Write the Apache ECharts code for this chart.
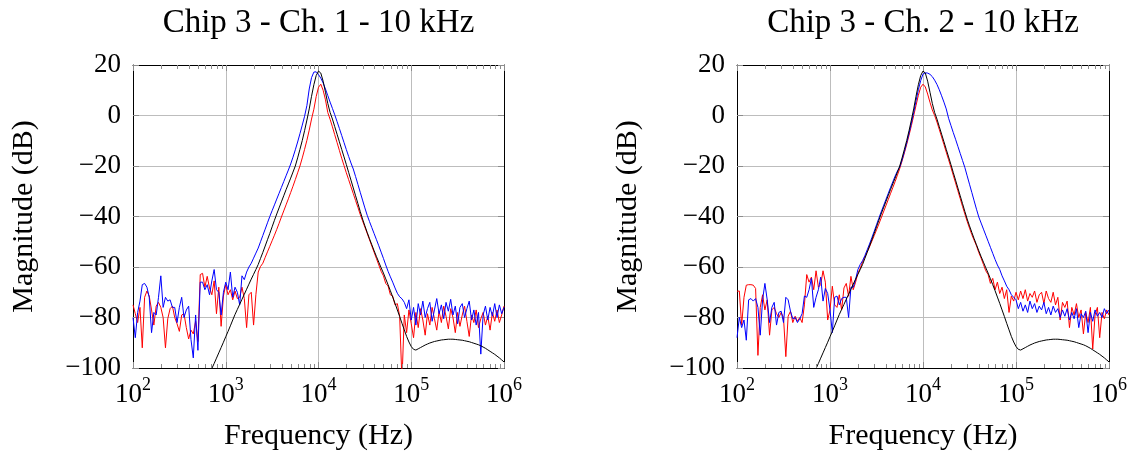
<!DOCTYPE html>
<html>
<head>
<meta charset="utf-8">
<script src="https://cdn.jsdelivr.net/npm/echarts@6/dist/echarts.min.js"></script>
<style>
  html, body { margin: 0; padding: 0; background: #ffffff; }
  #chart { width: 1134px; height: 457px; }
</style>
</head>
<body>
<div id="chart"></div>
<script>
// Sweep grid: 40 log-spaced points per decade, 100 Hz .. 1 MHz
const sweepMantissa = [1.000, 1.059, 1.122, 1.189, 1.259, 1.334, 1.413, 1.496, 1.585, 1.679,
                       1.778, 1.884, 1.995, 2.113, 2.239, 2.371, 2.512, 2.661, 2.818, 2.985,
                       3.162, 3.350, 3.548, 3.758, 3.981, 4.217, 4.467, 4.732, 5.012, 5.309,
                       5.623, 5.957, 6.310, 6.683, 7.079, 7.499, 7.943, 8.414, 8.913, 9.441];
const sweepDecadesHz = [100, 1000, 10000, 100000];
const sweepEndHz = 1000000;

const panelTitles = ['Chip 3 - Ch. 1 - 10 kHz', 'Chip 3 - Ch. 2 - 10 kHz'];
const xAxisTitle = 'Frequency (Hz)';
const yAxisTitle = 'Magnitude (dB)';
const freqRangeHz = [100, 1000000];
const magRangeDb = [-100, 20];
const magStepDb = 20;
const minorMultipliers = [2, 3, 4, 5, 6, 7, 8, 9];

// Simulated filter response (same model in both panels), dB
const modelDb = [
  null, null, null, null, null, null, null, null, null, null,
  null, null, null, null, null, null, null, null, null, null,
  null, null, null, null, null, null, null, null, null, null,
  null, null, -104.4, -102.3, -100.2, -98.2, -96.1, -94.0, -91.9, -89.8,
  -87.6, -85.5, -83.3, -81.0, -78.8, -76.8, -74.8, -72.8, -70.8, -68.8,
  -66.8, -64.8, -62.9, -61.0, -59.0, -56.6, -54.2, -51.7, -49.2, -46.7,
  -44.1, -41.5, -39.0, -36.6, -34.2, -31.8, -29.4, -27.1, -24.8, -22.4,
  -20.0, -16.8, -13.4, -9.9, -6.0, -1.8, 2.6, 7.6, 12.2, 15.8,
  17.6, 16.8, 13.6, 9.2, 4.8, 1.2, -1.4, -4.4, -7.4, -10.4,
  -13.4, -16.4, -19.4, -22.5, -25.6, -28.7, -31.8, -34.9, -38.0, -41.0,
  -43.7, -46.3, -48.8, -51.2, -53.6, -55.9, -58.1, -60.3, -62.4, -64.7,
  -67.0, -69.4, -71.9, -74.4, -77.0, -79.6, -82.3, -84.9, -87.5, -89.7,
  -91.5, -92.6, -92.9, -92.4, -91.9, -91.4, -90.9, -90.5, -90.1, -89.8,
  -89.5, -89.3, -89.1, -88.9, -88.8, -88.7, -88.6, -88.6, -88.6, -88.7,
  -88.8, -88.9, -89.0, -89.2, -89.4, -89.6, -89.9, -90.2, -90.5, -90.8,
  -91.2, -91.7, -92.2, -92.8, -93.4, -94.0, -94.6, -95.3, -96.0, -96.8,
  -97.6
];

// Channel 1 measurements, dB
const ch1RedDb = [
  -75.0, -78.5, -82.0, -76.0, -92.0, -72.0, -69.5, -71.5, -77.0, -83.0,
  -75.5, -74.0, -76.0, -80.0, -92.0, -80.5, -76.5, -75.5, -80.0, -82.5,
  -85.5, -79.0, -78.5, -84.0, -88.5, -85.0, -86.5, -81.5, -89.5, -63.0,
  -62.5, -68.0, -63.7, -68.3, -71.0, -65.5, -78.5, -68.0, -83.5, -71.5,
  -67.0, -71.0, -69.0, -73.0, -69.5, -72.5, -72.0, -68.0, -72.5, -84.0,
  -71.0, -70.0, -83.0, -71.0, -62.0, -59.8, -58.5, -56.2, -54.0, -51.8,
  -49.6, -47.4, -45.1, -42.7, -40.2, -37.8, -35.4, -33.0, -30.5, -28.0,
  -25.4, -22.7, -20.0, -16.8, -13.4, -9.8, -5.8, -1.4, 2.5, 7.5,
  11.2, 12.4, 10.0, 6.2, 1.2, -1.5, -4.5, -7.6, -10.7, -13.8,
  -16.9, -19.8, -22.7, -25.4, -28.2, -30.9, -33.7, -36.4, -39.2, -41.7,
  -44.2, -46.7, -49.2, -51.7, -54.2, -56.7, -59.2, -61.7, -63.5, -66.5,
  -67.5, -71.0, -71.5, -75.0, -74.5, -79.5, -105.0, -79.0, -86.0, -77.0,
  -82.5, -88.0, -78.0, -84.0, -76.5, -81.0, -87.0, -78.5, -83.0, -76.0,
  -80.5, -85.0, -77.5, -82.0, -75.5, -79.5, -84.5, -76.5, -80.0, -86.0,
  -78.0, -83.5, -79.0, -75.5, -81.5, -87.5, -79.0, -82.0, -77.0, -84.0,
  -80.5, -78.0, -83.0, -79.5, -85.0, -78.0, -81.5, -77.0, -82.0, -79.0,
  -75.5
];
const ch1BlueDb = [
  -80.0, -88.0, -78.0, -73.5, -67.0, -66.5, -68.0, -72.0, -86.0, -78.0,
  -79.0, -72.0, -63.5, -76.0, -72.0, -73.5, -73.0, -76.0, -76.0, -82.0,
  -76.0, -72.0, -80.0, -77.0, -75.5, -88.7, -96.0, -79.0, -93.0, -66.0,
  -66.0, -69.0, -67.0, -71.0, -65.5, -61.0, -69.0, -70.0, -79.0, -70.0,
  -66.0, -69.0, -62.0, -72.0, -68.0, -70.0, -75.0, -63.5, -65.0, -62.0,
  -60.0, -58.5, -56.5, -54.5, -52.5, -50.0, -47.5, -45.0, -42.5, -40.0,
  -37.7, -35.4, -33.1, -30.8, -28.5, -26.2, -23.9, -21.6, -19.2, -16.5,
  -13.6, -10.5, -7.2, -3.8, -0.3, 4.0, 10.5, 15.0, 17.2, 17.3,
  16.2, 14.8, 12.9, 10.5, 7.9, 5.3, 2.8, 0.3, -2.4, -5.1,
  -7.9, -10.7, -13.5, -16.2, -18.8, -21.2, -24.2, -27.3, -30.4, -33.5,
  -36.6, -39.5, -42.0, -44.4, -46.8, -49.2, -51.6, -54.1, -56.6, -59.2,
  -61.7, -63.9, -66.0, -68.3, -70.4, -71.8, -72.6, -74.0, -76.5, -73.0,
  -81.0, -76.0, -83.0, -74.5, -79.0, -73.5, -80.0, -76.5, -74.0, -81.5,
  -77.0, -72.5, -78.5, -75.0, -80.5, -74.0, -77.5, -72.8, -79.0, -75.5,
  -82.5, -76.0, -74.5, -80.0, -76.5, -73.5, -81.0, -77.0, -83.0, -78.0,
  -94.5, -79.0, -75.5, -81.0, -76.0, -79.5, -74.5, -80.0, -75.0, -78.5,
  -76.0
];

// Channel 2 measurements, dB
const ch2RedDb = [
  -69.6, -69.5, -83.0, -72.0, -67.2, -67.0, -67.0, -67.2, -68.5, -95.0,
  -76.0, -71.0, -77.0, -73.0, -87.0, -77.0, -76.0, -78.5, -80.0, -78.0,
  -80.0, -95.5, -79.5, -77.5, -82.0, -79.5, -81.5, -80.0, -82.0, -75.0,
  -63.0, -66.0, -64.0, -69.0, -61.5, -68.0, -67.0, -61.5, -66.0, -81.0,
  -77.0, -67.6, -75.0, -76.0, -71.0, -77.0, -68.3, -66.5, -71.6, -63.7,
  -69.0, -66.0, -62.5, -60.5, -58.0, -56.0, -54.0, -52.0, -49.8, -47.6,
  -45.3, -43.0, -40.6, -38.2, -35.8, -33.4, -31.0, -28.6, -26.2, -23.6,
  -21.0, -18.0, -14.8, -11.4, -7.8, -4.0, 0.0, 4.0, 8.0, 11.2,
  12.4, 11.3, 8.5, 5.2, 2.2, 0.0, -2.6, -5.5, -8.5, -11.5,
  -14.5, -17.5, -20.5, -23.6, -26.7, -29.8, -32.9, -36.0, -39.0, -41.9,
  -44.6, -47.2, -49.4, -51.6, -54.3, -56.5, -59.0, -61.5, -63.0, -66.5,
  -64.5, -69.0, -66.0, -70.5, -68.0, -72.5, -69.0, -78.0, -71.5, -73.5,
  -70.0, -73.0, -69.5, -72.5, -69.0, -73.5, -70.5, -72.0, -69.5, -74.0,
  -71.0, -70.0, -74.5, -69.5, -72.5, -74.0, -70.0, -75.0, -72.0, -81.0,
  -74.0, -76.0, -73.5, -84.0, -76.0, -79.0, -74.5, -80.0, -77.0, -86.5,
  -78.0, -82.0, -76.0, -92.5, -79.0, -76.0, -88.0, -78.0, -80.5, -77.0,
  -79.0
];
const ch2BlueDb = [
  -88.0, -80.0, -84.0, -81.0, -89.0, -73.0, -72.5, -73.5, -72.5, -76.0,
  -87.0, -73.0, -66.5, -73.0, -82.0, -76.0, -74.0, -83.0, -78.0, -77.5,
  -82.0, -72.0, -73.0, -77.5, -80.5, -80.0, -82.0, -80.5, -78.5, -71.5,
  -72.0, -69.0, -64.5, -76.0, -72.0, -69.0, -64.0, -73.5, -68.5, -70.5,
  -77.0, -86.0, -72.0, -71.5, -75.0, -72.5, -72.0, -72.0, -80.0, -68.0,
  -68.0, -65.0, -61.0, -59.0, -57.5, -55.5, -53.2, -50.9, -48.4, -45.9,
  -43.3, -40.7, -38.2, -35.8, -33.4, -31.0, -28.6, -26.3, -24.0, -22.0,
  -20.4, -17.6, -14.3, -10.8, -7.0, -3.0, 1.2, 5.8, 10.2, 13.8,
  16.4, 16.9, 16.8, 16.3, 15.4, 14.0, 12.3, 10.2, 7.8, 5.3,
  2.6, -1.1, -3.9, -6.7, -9.4, -12.2, -15.0, -17.8, -20.6, -23.9,
  -27.2, -30.5, -33.8, -37.1, -40.2, -42.6, -45.0, -47.4, -49.8, -52.2,
  -54.6, -57.0, -59.2, -61.0, -63.5, -65.5, -67.6, -69.0, -71.0, -72.0,
  -73.0, -76.5, -74.0, -77.5, -75.0, -78.0, -73.5, -76.5, -74.5, -78.0,
  -75.5, -77.0, -74.0, -78.5, -76.0, -79.0, -75.5, -78.0, -76.5, -80.0,
  -77.0, -79.5, -76.5, -81.0, -78.0, -80.5, -76.5, -84.0, -78.5, -80.0,
  -77.5, -86.0, -78.0, -81.5, -77.0, -79.5, -78.0, -80.0, -76.5, -78.5,
  -77.0
];

// ---- build the chart ----
const freqHz = sweepDecadesHz
  .flatMap(d => sweepMantissa.map(m => Math.round(d * m * 1000) / 1000))
  .concat([sweepEndHz]);
const minorTickHz = sweepDecadesHz.flatMap(d => minorMultipliers.map(m => d * m));
const pairs = vals => freqHz.map((f, i) => [f, vals[i]]);

const FONT = 'Liberation Serif';
const GRID_COLOR = '#bdbdbd';
const TICK_COLOR = '#8c8c8c';
const AXIS_COLOR = '#000000';

const panels = [
  { left: 133, width: 371, red: ch1RedDb, blue: ch1BlueDb },
  { left: 737, width: 372, red: ch2RedDb, blue: ch2BlueDb }
];
const plotTop = 65, plotHeight = 303;

const grid = [], xAxis = [], yAxis = [], series = [], graphic = [];

panels.forEach((p, i) => {
  grid.push({ left: p.left, top: plotTop, width: p.width, height: plotHeight,
              containLabel: false, outerBoundsMode: 'none' });

  const xBase = {
    type: 'log', logBase: 10, gridIndex: i,
    min: freqRangeHz[0], max: freqRangeHz[1],
    axisLine: { show: true, onZero: false, lineStyle: { color: AXIS_COLOR, width: 1 } },
    axisTick: { show: true, inside: true, length: 6, lineStyle: { color: TICK_COLOR, width: 1 } },
    axisLabel: { show: false },
    splitLine: { show: false }
  };
  xAxis.push(Object.assign({}, xBase, {
    position: 'bottom',
    name: xAxisTitle, nameLocation: 'middle', nameGap: 53,
    nameTextStyle: { fontFamily: FONT, fontSize: 30, color: '#000' },
    splitLine: { show: true, lineStyle: { color: GRID_COLOR, width: 1 } },
    axisLabel: {
      show: true, margin: 8,
      formatter: v => '{m|10}{e|' + Math.round(Math.log10(v)) + '}',
      rich: {
        m: { fontFamily: FONT, fontSize: 27, color: '#000', padding: [5, 0, 0, 0] },
        e: { fontFamily: FONT, fontSize: 18, color: '#000', verticalAlign: 'top' }
      }
    }
  }));
  xAxis.push(Object.assign({}, xBase, { position: 'top' }));

  const yBase = {
    type: 'value', gridIndex: i,
    min: magRangeDb[0], max: magRangeDb[1], interval: magStepDb,
    axisLine: { show: true, lineStyle: { color: AXIS_COLOR, width: 1 } },
    axisTick: { show: true, inside: true, length: 6, lineStyle: { color: TICK_COLOR, width: 1 } },
    axisLabel: { show: false },
    splitLine: { show: false }
  };
  yAxis.push(Object.assign({}, yBase, {
    position: 'left',
    name: yAxisTitle, nameLocation: 'middle', nameGap: 94, nameRotate: 90,
    nameTextStyle: { fontFamily: FONT, fontSize: 30, color: '#000' },
    splitLine: { show: true, lineStyle: { color: GRID_COLOR, width: 1 } },
    axisLabel: {
      show: true, margin: 12, fontFamily: FONT, fontSize: 27, color: '#000',
      formatter: v => (v < 0 ? '\u2212' + Math.abs(v) : String(v))
    }
  }));
  yAxis.push(Object.assign({}, yBase, { position: 'right' }));

  const xi = 2 * i, yi = 2 * i;
  const lineSeries = (name, vals, color, z) => ({
    name, type: 'line', xAxisIndex: xi, yAxisIndex: yi,
    data: pairs(vals), showSymbol: false, symbol: 'none',
    lineStyle: { color, width: 1 }, clip: true, z, silent: true
  });
  series.push(lineSeries('Ch' + (i + 1) + ' red', p.red, '#ff0000', 3));
  series.push(lineSeries('Ch' + (i + 1) + ' blue', p.blue, '#0000ff', 4));
  series.push(lineSeries('Model', modelDb, '#000000', 5));

  // Minor log ticks (2..9 per decade) on the bottom and top frame edges
  series.push({
    type: 'custom', xAxisIndex: xi, yAxisIndex: yi, silent: true, z: 6,
    data: minorTickHz.map(f => [f, magRangeDb[0]]),
    renderItem: (params, api) => {
      const f = api.value(0);
      const top = api.coord([f, magRangeDb[1]]);
      const bot = api.coord([f, magRangeDb[0]]);
      const x = Math.round(top[0]) + 0.5;
      const st = { stroke: TICK_COLOR, lineWidth: 1 };
      return { type: 'group', children: [
        { type: 'line', shape: { x1: x, y1: top[1], x2: x, y2: top[1] + 4 }, style: st },
        { type: 'line', shape: { x1: x, y1: bot[1], x2: x, y2: bot[1] - 4 }, style: st }
      ] };
    }
  });

  graphic.push({
    type: 'text', x: p.left + p.width / 2, y: 23,
    style: { text: panelTitles[i], font: '33px "' + FONT + '"', fill: '#000',
             textAlign: 'center', textVerticalAlign: 'middle' }
  });
});

const chart = echarts.init(document.getElementById('chart'), null, { renderer: 'canvas' });
chart.setOption({
  animation: false,
  backgroundColor: '#ffffff',
  grid, xAxis, yAxis, series, graphic
});
</script>
</body>
</html>
